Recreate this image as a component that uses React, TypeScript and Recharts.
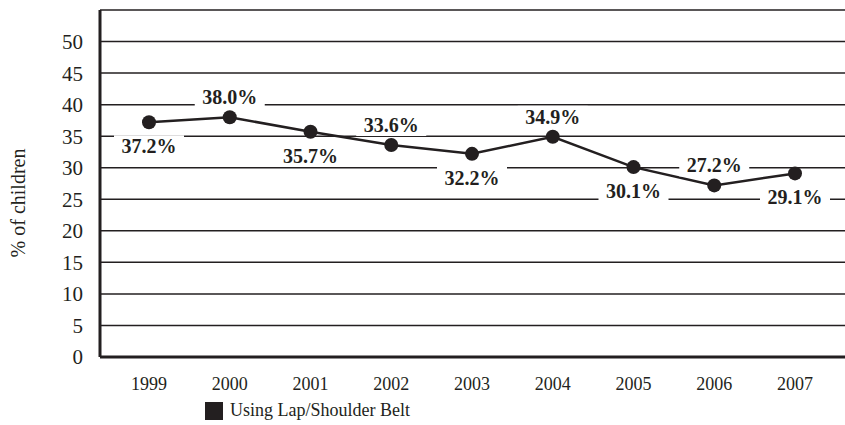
import { LineChart, Line, XAxis, YAxis, CartesianGrid, LabelList } from "recharts";

const YEARS = ["1999", "2000", "2001", "2002", "2003", "2004", "2005", "2006", "2007"];
const BELT = [37.2, 38.0, 35.7, 33.6, 32.2, 34.9, 30.1, 27.2, 29.1];
// label below (+1) or above (-1) the point
const LABEL_SIDE = [1, -1, 1, -1, 1, -1, 1, -1, 1];
const Y_TICKS = [0, 5, 10, 15, 20, 25, 30, 35, 40, 45, 50];

const data = YEARS.map((year, i) => ({ year, belt: BELT[i] }));

const FONT = "Liberation Serif, DejaVu Serif, serif";
const INK = "#231f20";

function ValueLabel(props: any) {
  const { x, y, value, index } = props;
  const side = LABEL_SIDE[index];
  const cy = y + (side > 0 ? 24 : -20);
  const text = `${Number(value).toFixed(1)}%`;
  const w = 70;
  const h = 22;
  return (
    <g>
      <rect x={x - w / 2} y={cy - h / 2} width={w} height={h} fill="#fff" />
      <text
        x={x}
        y={cy}
        textAnchor="middle"
        dominantBaseline="central"
        fontFamily={FONT}
        fontSize={20}
        fontWeight="bold"
        fill={INK}
      >
        {text}
      </text>
    </g>
  );
}

export default function App() {
  return (
    <div style={{ position: "absolute", left: 0, top: 0, width: 845, height: 425, background: "#fff" }}>
      <LineChart width={845} height={425} data={data} margin={{ top: 10, right: 0, left: 0, bottom: 38 }}>
        <CartesianGrid horizontal vertical={false} stroke={INK} strokeWidth={1.5} />
        <XAxis
          dataKey="year"
          padding={{ left: 49, right: 50 }}
          axisLine={{ stroke: INK, strokeWidth: 3 }}
          tickLine={false}
          height={30}
          tickMargin={14}
          tick={{ fontFamily: FONT, fontSize: 18, fill: INK }}
        />
        <YAxis
          domain={[0, 55]}
          ticks={Y_TICKS}
          width={100}
          axisLine={{ stroke: INK, strokeWidth: 3 }}
          tickLine={false}
          tickMargin={11}
          tick={{ fontFamily: FONT, fontSize: 21, fill: INK }}
          label={{
            content: () => (
              <text
                x={18}
                y={203}
                transform="rotate(-90 18 203)"
                textAnchor="middle"
                dominantBaseline="central"
                fontFamily={FONT}
                fontSize={20}
                fill={INK}
              >
                % of children
              </text>
            ),
          }}
        />
        <Line
          dataKey="belt"
          stroke={INK}
          strokeWidth={2.5}
          dot={{ r: 7, fill: INK, stroke: INK, strokeWidth: 0 }}
          isAnimationActive={false}
        >
          <LabelList dataKey="belt" content={ValueLabel} />
        </Line>
      </LineChart>
      <div
        style={{
          position: "absolute",
          left: 205,
          top: 400,
          display: "flex",
          alignItems: "center",
          fontFamily: FONT,
          fontSize: 18,
          color: INK,
        }}
      >
        <span style={{ display: "inline-block", width: 18, height: 18, background: INK, marginRight: 7 }} />
        Using Lap/Shoulder Belt
      </div>
    </div>
  );
}
